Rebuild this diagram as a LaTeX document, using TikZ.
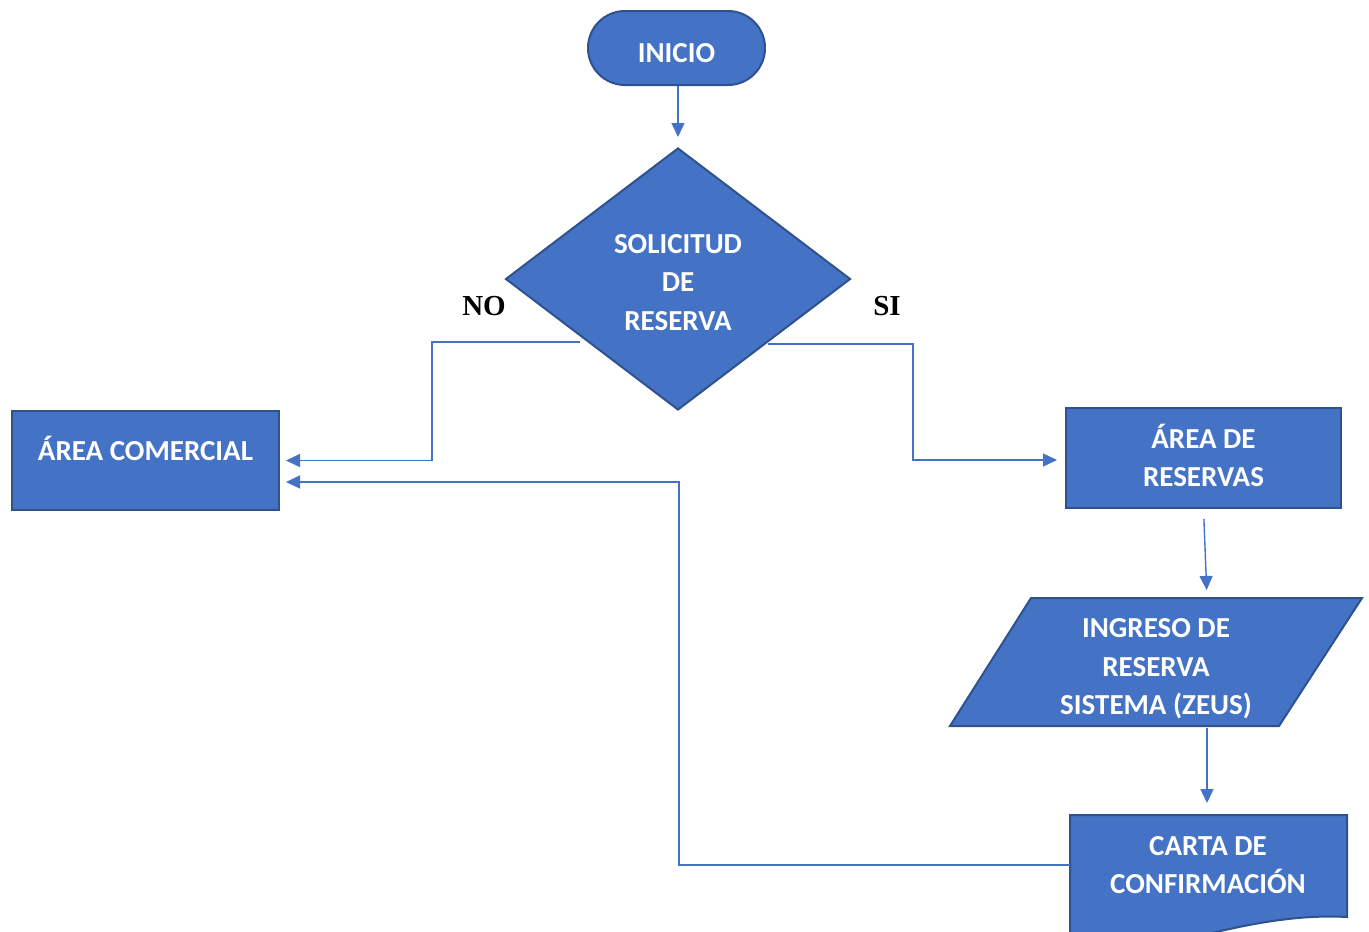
\documentclass[tikz,border=0pt]{standalone}
\usepackage{fontspec}
\setmainfont{Carlito}
\newfontfamily\timesfont{Liberation Serif}
\usepackage{tikz}
\usetikzlibrary{arrows.meta, shapes.geometric, shapes.misc}

\definecolor{officeblue}{HTML}{4472C4}
\definecolor{officeedge}{HTML}{2F528F}

% text lines moved up or down inside a node, the node keeps its size
\newcommand{\boxlines}[2]{\raisebox{#1}[\height][\depth]{\begin{tabular}{@{}c@{}}#2\end{tabular}}}

\tikzset{
    box/.style={draw=officeedge, line width=2pt, fill=officeblue, text=white,
        font=\fontsize{29}{38.5}\selectfont\bfseries, align=center, inner sep=0pt},
    conn/.style={draw=officeblue, line width=1.4pt,
        -{Triangle[length=14pt, width=13pt]}},
    answer/.style={font=\timesfont\fontsize{29}{34}\selectfont\bfseries}
}

\begin{document}
\begin{tikzpicture}[x=1pt, y=-1pt]
    \useasboundingbox (0,0) rectangle (1369,932);
    \clip (0,0) rectangle (1369,932);

    % Start and decision
    \node[box, rounded rectangle, minimum width=177pt, minimum height=74pt] (inicio) at (676.5,48) {\boxlines{-7pt}{INICIO}};
    \node[box, diamond, minimum width=345pt, minimum height=262pt] (sol) at (678,279) {\boxlines{-5pt}{SOLICITUD\\DE\\RESERVA}};
    \node[answer] (no) at (484,306) {NO};
    \node[answer] (si) at (887,306) {SI};

    % Process boxes
    \node[box, minimum width=267pt, minimum height=99pt] (comercial) at (145.5,460.5) {\boxlines{8pt}{ÁREA COMERCIAL}};
    \node[box, minimum width=275pt, minimum height=100pt] (reservas) at (1203.5,458) {\boxlines{-2pt}{ÁREA DE\\RESERVAS}};

    % Input (parallelogram)
    \coordinate (ingtop) at (1207,598);
    \coordinate (ingbot) at (1207,726);
    \filldraw[draw=officeedge, line width=2pt, fill=officeblue] (1031,598) -- (1362,598) -- (1279,726) -- (950,726) -- cycle;
    \node[box, draw=none, fill=none] (ingreso) at (1156,669) {INGRESO DE\\RESERVA\\SISTEMA (ZEUS)};

    % Document (runs off the page)
    \coordinate (cartatop) at (1207,815);
    \coordinate (cartaleft) at (1070,865);
    \filldraw[draw=officeedge, line width=2pt, fill=officeblue] (1070,990) -- (1070,815) -- (1347,815) -- (1347,917)
        .. controls (1290,914) and (1220,925) .. (1070,975) -- cycle;
    \node[box, draw=none, fill=none] (carta) at (1208,865) {CARTA DE\\CONFIRMACIÓN};

    % Connectors
    \coordinate (nostart) at (580,342);
    \coordinate (sistart) at (768,344);
    \draw[conn, shorten >=10pt] (inicio.south -| sol.north) -- (sol.north);
    \draw[conn, shorten >=6pt] (nostart) -- (432,342) |- (comercial.east);
    \draw[conn, shorten >=8pt] (sistart) -- (913,344) |- ([yshift=-2pt]reservas.west);
    \draw[conn, shorten <=10pt, shorten >=8pt] (reservas.south) -- (ingtop);
    \draw[conn, shorten <=2pt, shorten >=12pt] (ingbot) -- (cartatop);
    \draw[conn, shorten >=6pt] (cartaleft) -- (679,865) |- ([yshift=-21.5pt]comercial.east);
\end{tikzpicture}
\end{document}
